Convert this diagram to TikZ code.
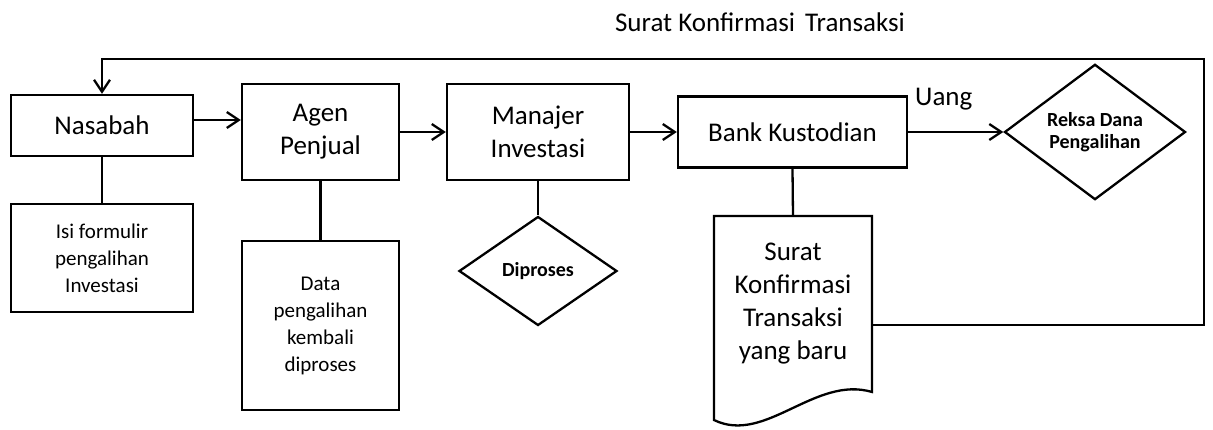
\documentclass[tikz,border=0pt]{standalone}
\usepackage{fontspec}
\setmainfont{Carlito}
\usetikzlibrary{shapes.geometric,arrows.meta}
\begin{document}
\begin{tikzpicture}[x=1pt,y=-1pt,
  box/.style={draw,line width=2.3pt,rectangle,inner sep=0pt,align=center},
  big/.style={font=\fontsize{27}{33}\selectfont},
  small/.style={font=\fontsize{21}{27}\selectfont},
  dia/.style={draw,line width=2.3pt,diamond,inner sep=0pt,align=center,font=\fontsize{20}{22}\selectfont\bfseries},
  conn/.style={line width=2.3pt},
  arr/.style={line width=2.3pt,-{Straight Barb[length=12pt,width=16pt,line width=2.3pt]}}]
\useasboundingbox (0,0) rectangle (1213,430);
\node[box,big,minimum width=182pt,minimum height=61pt] (nas) at (102,125.5) {Nasabah};
\node[box,big,minimum width=157pt,minimum height=96pt] (agen) at (320.5,132) {Agen\\Penjual};
\node[box,big,minimum width=182pt,minimum height=96pt] (man) at (538,132) {Manajer\\Investasi};
\node[box,big,minimum width=229pt,minimum height=71pt] (bank) at (792.5,132) {Bank Kustodian};
\node[dia,minimum width=181pt,minimum height=123pt] (reksa) at (1095,132) {Reksa Dana\\Pengalihan};
\node[box,small,minimum width=182pt,minimum height=108pt] (isi) at (102,258) {Isi formulir\\pengalihan\\Investasi};
\node[box,small,minimum width=157pt,minimum height=169pt] (data) at (320.5,325.5) {Data\\pengalihan\\kembali\\diproses};
\node[dia,minimum width=158pt,minimum height=109pt] (dip) at (538,271) {Diproses};
% document shape
\draw[line width=2.3pt] (714,216) -- (872,216) -- (872,392) .. controls (815,375) and (765,445) .. (714,420) -- cycle;
\coordinate (docT) at (793,216);
\coordinate (docR) at (872,325);
\node[big,align=center] (doctext) at (793,304) {Surat\\Konfirmasi\\Transaksi\\yang baru};
% labels
\node[big,anchor=base] (title) at (760,32) {Surat Konfirmasi\hspace{4pt} Transaksi};
\node[big,anchor=base west,inner sep=0pt] (uang) at (915,106) {Uang};
% connectors
\coordinate (a1) at ([yshift=5.5pt]nas.east);
\draw[arr] (a1) -- (a1 -| agen.west);
\draw[arr] (agen.east) -- (man.west);
\draw[arr] (man.east) -- (bank.west);
\draw[arr] (bank.east) -- (reksa.west);
\draw[conn] (nas.south) -- (isi.north);
\draw[conn] (agen.south) -- (data.north);
\draw[conn] (man.south) -- (dip.north);
\draw[conn] (bank.south) -- (docT);
\coordinate (tr) at (1204,59);
\draw[arr] (docR) -| (tr) -- (tr -| nas.north) -- (nas.north);
\end{tikzpicture}
\end{document}
